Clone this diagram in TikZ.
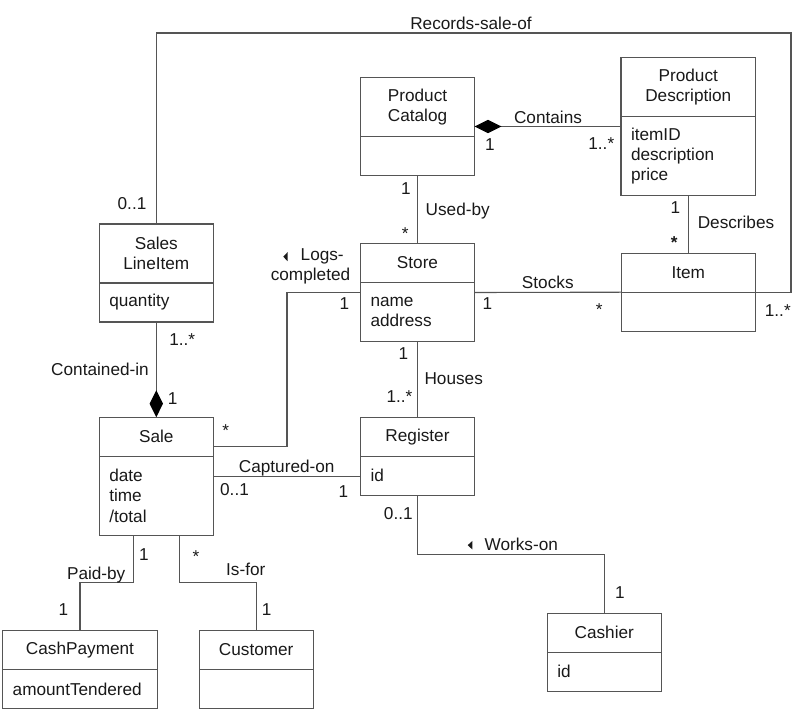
\documentclass[tikz,border=0pt]{standalone}
\usepackage{fontspec}
\setmainfont{Liberation Sans}
\usepackage{xcolor}
\usetikzlibrary{arrows.meta, positioning, fit, calc}

\definecolor{linegray}{RGB}{85,85,85}
\definecolor{textgray}{RGB}{25,25,25}

\begin{document}
\begin{tikzpicture}[
  x=0.5pt, y=-0.5pt,
  every node/.style={font=\fontsize{8.6}{10.2}\selectfont, text=textgray},
  cname/.style={draw=linegray, line width=0.55pt, outer sep=0pt, inner sep=0pt, minimum width=#1, minimum height=19.5pt, align=center},
  cname/.default=57pt,
  cattr/.style={draw=linegray, line width=0.55pt, outer sep=0pt, inner ysep=0pt, inner xsep=5pt, text width=#1, minimum height=19.5pt, align=left},
  cattr/.default=47pt,
  lbl/.style={anchor=base, inner sep=0pt},
  assoc/.style={draw=linegray, line width=0.55pt},
  comp/.style={assoc, {Diamond[length=13.5pt, width=6.7pt, color=black]}-},
]
\useasboundingbox (0,0) rectangle (794,721);

% Classes
\node[cname, minimum height=29.5pt] (sli) at (156.3,253.5) {Sales\\LineItem};
\node[cattr, below=0pt of sli] (sliAtt) {quantity};
\node[fit=(sli)(sliAtt), inner sep=0pt, outer sep=0pt] (sliBox) {};

\node[cname, minimum height=29.5pt] (catalog) at (417.5,107) {Product\\Catalog};
\node[cattr, below=0pt of catalog] (catalogAtt) {};
\node[fit=(catalog)(catalogAtt), inner sep=0pt, outer sep=0pt] (catalogBox) {};

\node[cname=67.3pt, minimum height=29.5pt] (desc) at (688.3,87) {Product\\Description};
\node[cattr=57.3pt, minimum height=39.5pt, below=0pt of desc] (descAtt) {itemID\\description\\price};
\node[fit=(desc)(descAtt), inner sep=0pt, outer sep=0pt] (descBox) {};

\node[cname] (store) at (417.5,263) {Store};
\node[cattr, minimum height=29.5pt, below=0pt of store] (storeAtt) {name\\address};
\node[fit=(store)(storeAtt), inner sep=0pt, outer sep=0pt] (storeBox) {};

\node[cname=67pt] (item) at (688.3,272.7) {Item};
\node[cattr=57pt, below=0pt of item] (itemAtt) {};
\node[fit=(item)(itemAtt), inner sep=0pt, outer sep=0pt] (itemBox) {};

\node[cname] (sale) at (156.3,436.7) {Sale};
\node[cattr, minimum height=39.5pt, below=0pt of sale] (saleAtt) {date\\time\\/total};
\node[fit=(sale)(saleAtt), inner sep=0pt, outer sep=0pt] (saleBox) {};

\node[cname] (register) at (417.5,436.7) {Register};
\node[cattr, below=0pt of register] (registerAtt) {id};
\node[fit=(register)(registerAtt), inner sep=0pt, outer sep=0pt] (registerBox) {};

\node[cname] (cashier) at (604.3,632.8) {Cashier};
\node[cattr, below=0pt of cashier] (cashierAtt) {id};
\node[fit=(cashier)(cashierAtt), inner sep=0pt, outer sep=0pt] (cashierBox) {};

\node[cname=77.3pt] (payment) at (80,650) {CashPayment};
\node[cattr=67.3pt, below=0pt of payment] (paymentAtt) {amountTendered};
\node[fit=(payment)(paymentAtt), inner sep=0pt, outer sep=0pt] (paymentBox) {};

\node[cname] (customer) at (256.2,650) {Customer};
\node[cattr, below=0pt of customer] (customerAtt) {};
\node[fit=(customer)(customerAtt), inner sep=0pt, outer sep=0pt] (customerBox) {};

% Associations
\coordinate (rsCorner) at (791,33);
\draw[assoc] (sliBox.north) |- (rsCorner) |- (itemBox.east);
\draw[comp] (catalogBox.east) -- (descBox.west);
\draw[assoc] (catalogBox.south) -- (storeBox.north);
\draw[assoc] (descBox.south) -- (itemBox.north);
\draw[assoc] (storeBox.east) -- (itemBox.west);
\draw[assoc] (storeBox.west) -- ++(-73.5,0) |- ($(saleBox.north east)!.25!(saleBox.south east)$);
\draw[comp] (saleBox.north) -- (sliBox.south);
\draw[assoc] (saleBox.east) -- (saleBox.east -| registerBox.west);
\draw[assoc] (storeBox.south) -- (registerBox.north);
\draw[assoc] (registerBox.south) |- ($(registerBox.south)!.5!(cashierBox.north)$) -| (cashierBox.north);
\draw[assoc] ($(saleBox.south west)!.3!(saleBox.south east)$) |- ($(saleBox.south)!.5!(paymentBox.north)$) -| (paymentBox.north);
\draw[assoc] ($(saleBox.south west)!.7!(saleBox.south east)$) |- ($(saleBox.south)!.5!(customerBox.north)$) -| (customerBox.north);

% Labels
\node[lbl] (rsLbl) at (471,29.3) {Records-sale-of};
\node[lbl] (rsSli) at (132,210) {0..1};
\node[lbl] (rsItem) at (777.8,316.7) {1..*};

\node[lbl] (containsLbl) at (548,123.3) {Contains};
\node[lbl] (containsCat) at (490,150.7) {1};
\node[lbl] (containsDesc) at (601.3,149.3) {1..*};

\node[lbl] (usedLbl) at (457.7,216) {Used-by};
\node[lbl] (usedCat) at (406,195) {1};
\node[lbl] (usedStore) at (405.3,239.8) {*};

\node[lbl] (descrLbl) at (736,228.3) {Describes};
\node[lbl] (descrDesc) at (675.3,213.3) {1};
\node[lbl] (descrItem) at (674.2,248.5) {\textbf{*}};

\node[lbl] (stocksLbl) at (547.8,288.3) {Stocks};
\node[lbl] (stocksStore) at (487.3,309.3) {1};
\node[lbl] (stocksItem) at (599.3,315.8) {*};

\node[lbl] (logsLbl) at (322.2,260.7) {Logs-};
\node[lbl] (logsLbl2) at (310.5,280.7) {completed};
\fill[textgray] (283.3,256.7) -- (287.5,252.2) -- (287.5,261.2) -- cycle;
\node[lbl] (logsStore) at (344.3,309.3) {1};
\node[lbl] (logsSale) at (225.7,436.5) {*};

\node[lbl] (containedLbl) at (100,376) {Contained-in};
\node[lbl] (containedSli) at (182.2,346) {1..*};
\node[lbl] (containedSale) at (172.7,405) {1};

\node[lbl] (capturedLbl) at (286.7,472.7) {Captured-on};
\node[lbl] (capturedSale) at (234.5,496) {0..1};
\node[lbl] (capturedReg) at (343.3,497.7) {1};

\node[lbl] (housesLbl) at (453.7,385) {Houses};
\node[lbl] (housesStore) at (403.3,360) {1};
\node[lbl] (housesReg) at (399.5,402.7) {1..*};

\node[lbl] (worksLbl) at (521.3,550.7) {Works-on};
\fill[textgray] (467.7,545.2) -- (472.3,541) -- (472.3,549.4) -- cycle;
\node[lbl] (worksReg) at (398.3,519.3) {0..1};
\node[lbl] (worksCash) at (620,599) {1};

\node[lbl] (paidLbl) at (96.2,580) {Paid-by};
\node[lbl] (paidSale) at (144,560.7) {1};
\node[lbl] (paidCash) at (63.3,616) {1};

\node[lbl] (isforLbl) at (245.8,576) {Is-for};
\node[lbl] (isforSale) at (196,562.5) {*};
\node[lbl] (isforCust) at (266.7,616) {1};

\end{tikzpicture}
\end{document}
